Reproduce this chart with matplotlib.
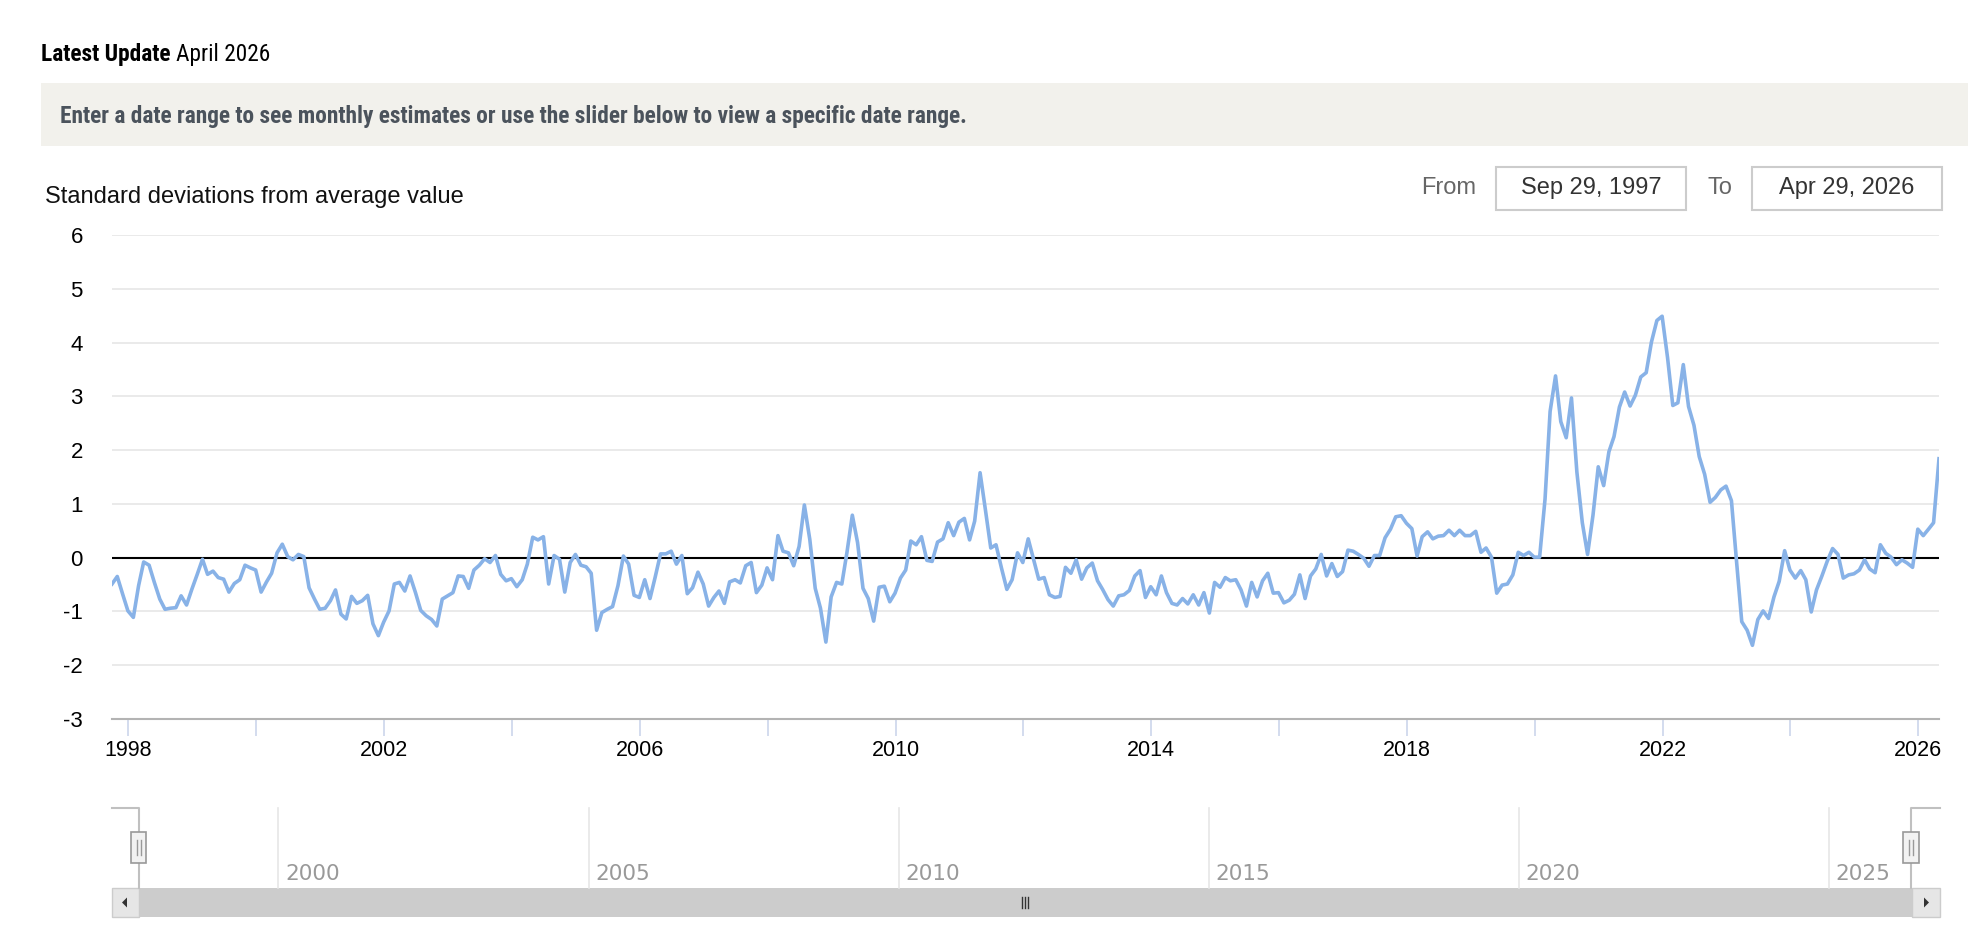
import numpy as np
import pandas as pd
import matplotlib
matplotlib.use('Agg')
import matplotlib.pyplot as plt
import matplotlib.dates as mdates
from matplotlib.patches import Rectangle, Polygon
from matplotlib.ticker import FuncFormatter
from matplotlib import font_manager
from matplotlib.transforms import offset_copy

# monthly readings, Sep 29 1997 .. Apr 29 2026 (one row = Sep..Aug)
std_dev = [
    -0.49, -0.35, -0.68, -0.99, -1.11, -0.52, -0.08, -0.14, -0.46, -0.77, -0.96, -0.94,
    -0.93, -0.71, -0.88, -0.59, -0.31, -0.03, -0.31, -0.25, -0.37, -0.40, -0.64, -0.48,
    -0.41, -0.14, -0.19, -0.23, -0.64, -0.45, -0.29, 0.09, 0.25, 0.02, -0.04, 0.06,
    0.02, -0.56, -0.77, -0.96, -0.94, -0.80, -0.60, -1.05, -1.14, -0.72, -0.85, -0.80,
    -0.70, -1.23, -1.45, -1.20, -0.99, -0.49, -0.46, -0.62, -0.34, -0.65, -0.98, -1.08,
    -1.15, -1.27, -0.77, -0.71, -0.65, -0.34, -0.35, -0.57, -0.23, -0.14, -0.02, -0.09,
    0.04, -0.31, -0.43, -0.39, -0.54, -0.41, -0.12, 0.38, 0.33, 0.39, -0.49, 0.04,
    -0.03, -0.64, -0.09, 0.06, -0.14, -0.17, -0.29, -1.35, -1.02, -0.96, -0.91, -0.52,
    0.03, -0.12, -0.70, -0.74, -0.41, -0.76, -0.37, 0.07, 0.07, 0.12, -0.12, 0.04,
    -0.67, -0.56, -0.27, -0.49, -0.90, -0.74, -0.62, -0.85, -0.45, -0.41, -0.47, -0.15,
    -0.09, -0.65, -0.51, -0.19, -0.41, 0.41, 0.12, 0.09, -0.15, 0.21, 0.98, 0.34,
    -0.57, -0.94, -1.57, -0.73, -0.46, -0.49, 0.09, 0.79, 0.28, -0.57, -0.76, -1.18,
    -0.55, -0.53, -0.82, -0.66, -0.38, -0.23, 0.31, 0.24, 0.39, -0.05, -0.07, 0.29,
    0.35, 0.65, 0.41, 0.66, 0.73, 0.33, 0.68, 1.58, 0.90, 0.18, 0.24, -0.19,
    -0.59, -0.41, 0.09, -0.09, 0.35, -0.04, -0.40, -0.37, -0.69, -0.74, -0.72, -0.18,
    -0.29, -0.04, -0.40, -0.19, -0.10, -0.43, -0.59, -0.78, -0.90, -0.71, -0.69, -0.61,
    -0.34, -0.24, -0.74, -0.54, -0.69, -0.34, -0.65, -0.85, -0.88, -0.76, -0.86, -0.69,
    -0.88, -0.65, -1.03, -0.46, -0.55, -0.37, -0.43, -0.41, -0.60, -0.90, -0.46, -0.73,
    -0.43, -0.29, -0.66, -0.65, -0.84, -0.79, -0.68, -0.32, -0.76, -0.34, -0.21, 0.06,
    -0.34, -0.11, -0.35, -0.26, 0.14, 0.12, 0.06, -0.01, -0.16, 0.04, 0.04, 0.37,
    0.53, 0.76, 0.78, 0.64, 0.54, 0.03, 0.39, 0.48, 0.35, 0.40, 0.41, 0.51,
    0.41, 0.51, 0.41, 0.41, 0.49, 0.10, 0.18, 0.01, -0.66, -0.51, -0.49, -0.32,
    0.10, 0.04, 0.10, 0.01, 0.01, 1.09, 2.72, 3.38, 2.53, 2.23, 2.97, 1.59,
    0.65, 0.06, 0.79, 1.69, 1.34, 1.97, 2.25, 2.80, 3.08, 2.82, 3.02, 3.36,
    3.44, 4.01, 4.41, 4.49, 3.72, 2.83, 2.88, 3.59, 2.81, 2.46, 1.88, 1.55,
    1.03, 1.12, 1.26, 1.33, 1.06, -0.10, -1.19, -1.35, -1.63, -1.15, -0.99, -1.13,
    -0.73, -0.44, 0.13, -0.23, -0.38, -0.24, -0.41, -1.01, -0.60, -0.34, -0.07, 0.17,
    0.06, -0.38, -0.32, -0.30, -0.23, -0.04, -0.21, -0.28, 0.24, 0.08, 0.01, -0.13,
    -0.04, -0.10, -0.18, 0.53, 0.41, 0.53, 0.65, 1.84,
]
y_ticks = [-3, -2, -1, 0, 1, 2, 3, 4, 5, 6]
nav_years = [2000, 2005, 2010, 2015, 2020, 2025]
from_label = 'Sep 29, 1997'
to_label = 'Apr 29, 2026'

start = pd.Timestamp(1997, 9, 29)
dates = [start + pd.DateOffset(months=i) for i in range(len(std_dev))]

plt.rcParams['axes.unicode_minus'] = False

W, H = 1968, 944
def fx(x): return x / W
def fy(y): return 1 - y / H

names = {f.name for f in font_manager.fontManager.ttflist}
if 'Roboto Condensed' in names:
    narrow, nsize = 'Roboto Condensed', 16.8
elif 'Liberation Sans Narrow' in names:
    narrow, nsize = 'Liberation Sans Narrow', 16.8
else:
    narrow, nsize = 'Roboto', 14.9
sans = 'Liberation Sans'

fig = plt.figure(figsize=(W / 100, H / 100), dpi=100)
fig.patch.set_facecolor('white')

# pixel-space layer for the page decorations
deco = fig.add_axes([0, 0, 1, 1], zorder=0)
deco.set_xlim(0, W)
deco.set_ylim(H, 0)
deco.axis('off')

deco.add_patch(Rectangle((41, 83), W - 41, 63, fc='#f2f1ec', ec='none'))
t1 = fig.text(fx(41), fy(54), 'Latest Update', family=narrow, weight='bold',
              fontsize=nsize, va='center', ha='left', color='black')
fig.canvas.draw()
bb = t1.get_window_extent(fig.canvas.get_renderer())
fig.text(fx(bb.x1 + 5), fy(54), 'April 2026', family=narrow, fontsize=nsize,
         va='center', ha='left', color='black')
fig.text(fx(60), fy(116), 'Enter a date range to see monthly estimates or use the slider below to view a specific date range.',
         family=narrow, weight='bold', fontsize=nsize, va='center', ha='left', color='#4b535c')
fig.text(fx(45), fy(197), 'Standard deviations from average value', family=sans,
         fontsize=17, va='center', ha='left', color='#111111')

# From / To boxes
fig.text(fx(1421), fy(188), 'From', family=sans, fontsize=17, va='center', ha='left', color='#666666')
deco.add_patch(Rectangle((1496, 167), 190, 43, fc='white', ec='#cccccc', lw=1.5))
fig.text(fx(1591), fy(188), from_label, family=sans, fontsize=17, va='center', ha='center', color='#333333')
fig.text(fx(1707), fy(188), 'To', family=sans, fontsize=17, va='center', ha='left', color='#666666')
deco.add_patch(Rectangle((1752, 167), 190, 43, fc='white', ec='#cccccc', lw=1.5))
fig.text(fx(1847), fy(188), to_label, family=sans, fontsize=17, va='center', ha='center', color='#333333')

# main chart
ax = fig.add_axes([fx(112), fy(719), (1939 - 112) / W, (719 - 235) / H], zorder=2)
ax.patch.set_alpha(0)
ax.plot(dates, std_dev, color='#88b2e7', lw=2.6, solid_joinstyle='round', zorder=3)
ax.axhline(0, color='black', lw=1.5, zorder=2)
ax.set_ylim(-3, 6)
ax.set_yticks(y_ticks)
ax.set_xlim(dates[0], dates[-1])
ax.grid(axis='y', color='#e6e6e6', lw=1.2)
ax.set_axisbelow(True)
for s in ['left', 'right', 'top']:
    ax.spines[s].set_visible(False)
ax.spines['bottom'].set_color('#b3b3b3')
ax.spines['bottom'].set_linewidth(1.5)
ax.xaxis.set_major_locator(mdates.YearLocator(2))
ax.xaxis.set_major_formatter(FuncFormatter(
    lambda v, pos: str(mdates.num2date(v).year) if mdates.num2date(v).year % 4 == 2 else ''))
ax.tick_params(axis='x', length=12, width=1.2, color='#ccd6eb', pad=3, labelsize=15.5)
ax.tick_params(axis='y', length=0, pad=21, labelsize=16)
for lab in ax.get_xticklabels() + ax.get_yticklabels():
    lab.set_family(sans)

# navigator
d0 = mdates.date2num(dates[0])
d1 = mdates.date2num(dates[-1])
span = d1 - d0
nav = fig.add_axes([fx(112), fy(888), (1940 - 112) / W, 80 / H], zorder=3)
nav.set_xlim(d0 - span * 26.5 / 1772.2, d1 + span * 29.3 / 1772.2)
nav.set_ylim(888, 808)
nav.axis('off')
lo, hi = nav.get_xlim()
dpp = (hi - lo) / 1828.0
lab_tr = offset_copy(nav.transData, fig=fig, x=7, y=0, units='dots')
for yr in nav_years:
    d = mdates.date2num(pd.Timestamp(yr, 1, 1))
    nav.plot([d, d], [808, 888], color='#e6e6e6', lw=1.2, clip_on=False)
    nav.text(d, 880, str(yr), transform=lab_tr, family='DejaVu Sans', fontsize=15.5,
             color='#999999', ha='left', va='baseline')
nav.plot([lo, d0, d0], [808, 808, 888], color='#c0c0c0', lw=1.5, clip_on=False)
nav.plot([hi, d1, d1], [808, 808, 888], color='#c0c0c0', lw=1.5, clip_on=False)
for d in (d0, d1):
    nav.add_patch(Rectangle((d - 8 * dpp, 832), 16 * dpp, 31, fc='#f2f2f2', ec='#999999',
                            lw=1.2, clip_on=False, zorder=4))
    for k in (-2, 2):
        nav.plot([d + k * dpp, d + k * dpp], [840, 855], color='#999999', lw=1, zorder=5,
                 clip_on=False)

# scrollbar
px0 = 112 + (d0 - lo) / dpp
px1 = 112 + (d1 - lo) / dpp
deco.add_patch(Rectangle((112, 888), 1828, 29, fc='#cccccc', ec='none'))
deco.add_patch(Rectangle((112, 888), 27, 29, fc='#e6e6e6', ec='#cccccc', lw=1))
deco.add_patch(Rectangle((1912, 888), 28, 29, fc='#e6e6e6', ec='#cccccc', lw=1))
deco.add_patch(Polygon([[122, 902.5], [127, 897.5], [127, 907.5]], fc='#333333', ec='none'))
deco.add_patch(Polygon([[1929, 902.5], [1924, 897.5], [1924, 907.5]], fc='#333333', ec='none'))
mid = (px0 + px1) / 2
for k in (-3, 0, 3):
    deco.plot([mid + k, mid + k], [897, 908], color='#333333', lw=1)

fig.savefig('out.png', dpi=100)
